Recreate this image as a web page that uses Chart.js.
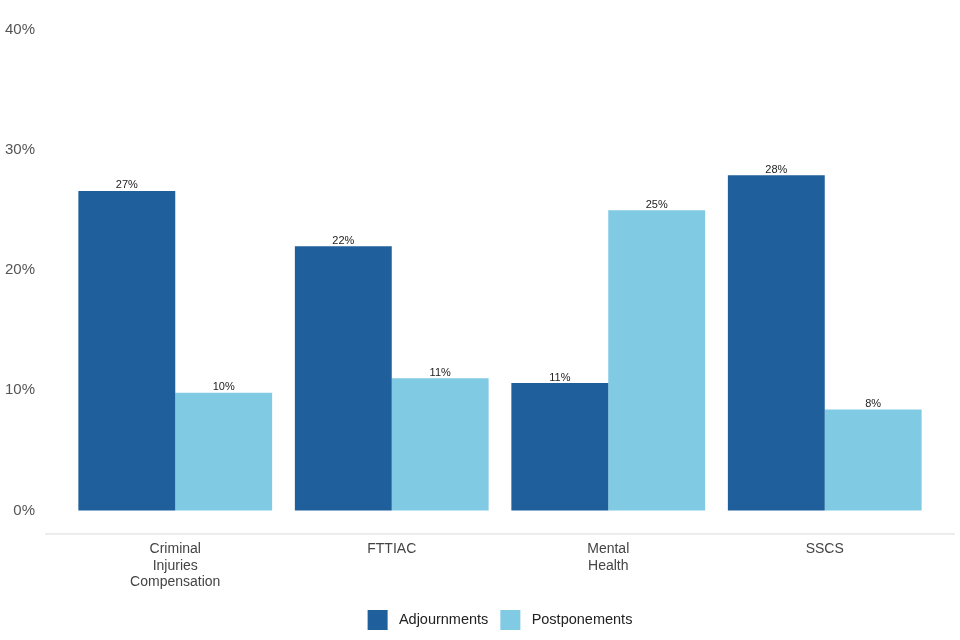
<!DOCTYPE html>
<html>
<head>
<meta charset="utf-8">
<script src="https://cdn.jsdelivr.net/npm/chart.js@4.4.1/dist/chart.umd.min.js"></script>
<style>
  html, body { margin: 0; padding: 0; background: #fff; }
  #wrap { width: 960px; height: 640px; }
</style>
</head>
<body>
<div id="wrap"><canvas id="grafik"></canvas></div>
<script>
// data
var categories = [["Criminal", "Injuries", "Compensation"], "FTTIAC", ["Mental", "Health"], "SSCS"]
var adjournments = [26.6, 22.0, 10.6, 27.9]
var postponements = [9.8, 11.0, 25.0, 8.4]
var yTicks = [0, 10, 20, 30, 40]

Chart.defaults.font.family = "'Liberation Sans', Arial, sans-serif"

// small % labels above every bar
var barLabels = {
  id: 'barLabels',
  afterDatasetsDraw: function(chart) {
    var ctx = chart.ctx
    ctx.save()
    ctx.font = "11px 'Liberation Sans', Arial, sans-serif"
    ctx.fillStyle = '#222'
    ctx.textAlign = 'center'
    ctx.textBaseline = 'bottom'
    chart.data.datasets.forEach(function(ds, i) {
      chart.getDatasetMeta(i).data.forEach(function(bar, j) {
        ctx.fillText(Math.round(ds.data[j]) + '%', bar.x, bar.y)
      })
    })
    ctx.restore()
  }
}

// light baseline under the bars, a bit wider than the plot area
var baseLine = {
  id: 'baseLine',
  afterDraw: function(chart) {
    var a = chart.chartArea, ctx = chart.ctx
    ctx.save()
    ctx.strokeStyle = '#d9d9d9'
    ctx.lineWidth = 1
    ctx.beginPath()
    ctx.moveTo(a.left - 22, a.bottom + 0.5)
    ctx.lineTo(a.right + 22, a.bottom + 0.5)
    ctx.stroke()
    ctx.restore()
  }
}

var chart = new Chart(document.getElementById('grafik'), {
  type: 'bar',
  data: {
    labels: categories,
    datasets: [{
      label: 'Adjournments',
      data: adjournments,
      backgroundColor: '#1f5f9b'
    }, {
      label: 'Postponements',
      data: postponements,
      backgroundColor: '#81cae3'
    }]
  },
  options: {
    responsive: true,
    maintainAspectRatio: false,
    animation: false,
    layout: { padding: { top: 30, right: 27, bottom: 0, left: 0 } },
    datasets: { bar: { categoryPercentage: 0.895, barPercentage: 1.0 } },
    scales: {
      y: {
        min: -1.92,
        max: 40,
        afterBuildTicks: function(scale) {
          scale.ticks = yTicks.map(function(v) { return { value: v } })
        },
        afterFit: function(scale) {
          scale.width = 67
          // tick padding is only meant horizontally here
          scale.paddingTop = 9
          scale.paddingBottom = 9
        },
        grid: { display: false, drawTicks: false },
        border: { display: false },
        ticks: {
          padding: 32,
          color: '#555',
          font: { size: 15 },
          callback: function(v) { return v + '%' }
        }
      },
      x: {
        grid: { display: false, drawTicks: false },
        border: { display: false },
        ticks: {
          padding: 7.5,
          color: '#444',
          font: { size: 14, lineHeight: 1.18 }
        }
      }
    },
    plugins: {
      tooltip: { enabled: false },
      legend: {
        position: 'bottom',
        fullSize: false,
        labels: {
          boxWidth: 20,
          boxHeight: 20,
          color: '#222',
          font: { size: 14.5 },
          padding: 12,
          generateLabels: function(chart) {
            var items = Chart.defaults.plugins.legend.labels.generateLabels(chart)
            items.forEach(function(it) { it.text = ' ' + it.text })
            return items
          }
        }
      }
    }
  },
  plugins: [barLabels, baseLine]
})
</script>
</body>
</html>
